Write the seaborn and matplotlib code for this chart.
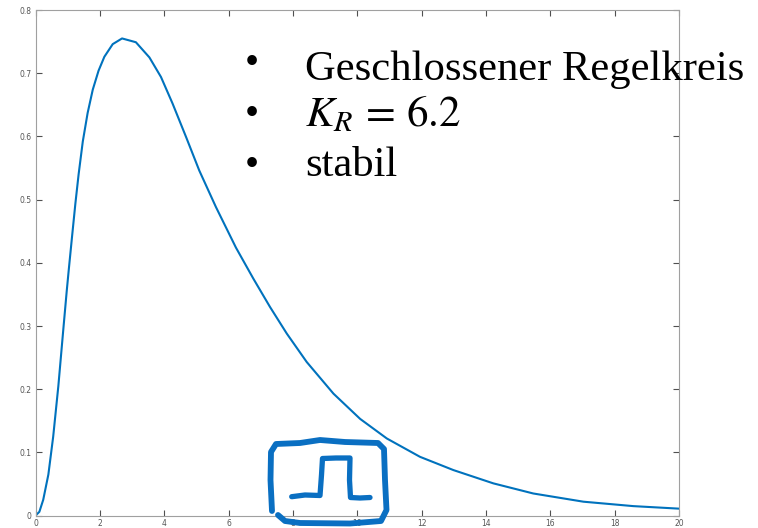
import matplotlib
matplotlib.use("Agg")
import matplotlib.pyplot as plt
import seaborn as sns
import pandas as pd

# ---- data ----
time_s = [0.0, 0.12, 0.24, 0.40, 0.55, 0.71, 0.865, 0.97, 1.03, 1.135, 1.24, 1.34,
          1.47, 1.62, 1.78, 1.96, 2.14, 2.40, 2.69, 3.12, 3.54, 3.90, 4.26, 4.68,
          5.09, 5.61, 6.23, 6.77, 7.29, 7.81, 8.43, 9.26, 10.09, 10.92, 11.95, 12.99,
          14.23, 15.47, 17.03, 18.58, 20.0]
response = [0.0, 0.006, 0.025, 0.065, 0.125, 0.205, 0.295, 0.355, 0.387, 0.441, 0.494, 0.540,
            0.592, 0.637, 0.674, 0.704, 0.726, 0.746, 0.755, 0.749, 0.725, 0.694, 0.652, 0.599,
            0.546, 0.488, 0.424, 0.375, 0.330, 0.288, 0.243, 0.193, 0.153, 0.122, 0.093, 0.072,
            0.051, 0.035, 0.022, 0.015, 0.011]
x_ticks = [0, 2, 4, 6, 8, 10, 12, 14, 16, 18, 20]
y_ticks = [0, 0.1, 0.2, 0.3, 0.4, 0.5, 0.6, 0.7, 0.8]
y_tick_labels = ["0", "0.1", "0.2", "0.3", "0.4", "0.5", "0.6", "0.7", "0.8"]
bullet_lines = ["Geschlossener Regelkreis", r"$K_R\,=\,6.2$", "stabil"]

df = pd.DataFrame({"t": time_s, "y": response})

sns.set_theme(style="white")
plt.rcParams["font.family"] = ["DejaVu Sans"]
plt.rcParams["mathtext.fontset"] = "stix"

W, H = 758, 528
fig = plt.figure(figsize=(W / 100, H / 100), dpi=100)
fig.patch.set_facecolor("white")

def fx(px):
    return px / W

def fy(py):
    return 1 - py / H

ax = fig.add_axes([fx(35.5), fy(515.6), fx(679) - fx(35.5), fy(10) - fy(515.6)])
ax.set_facecolor("white")

sns.lineplot(data=df, x="t", y="y", ax=ax, color="#0072BD", linewidth=1.5, sort=False)

ax.set_xlim(0, 20)
ax.set_ylim(0, 0.8)
ax.set_xticks(x_ticks)
ax.set_xticklabels([str(v) for v in x_ticks])
ax.set_yticks(y_ticks)
ax.set_yticklabels(y_tick_labels)
ax.set_xlabel("")
ax.set_ylabel("")
for s in ax.spines.values():
    s.set_visible(True)
    s.set_color("#a0a0a0")
    s.set_linewidth(0.8)
ax.tick_params(axis="both", which="both", direction="in", length=4, width=0.8,
               color="#505050", labelcolor="#555555", labelsize=5.5,
               top=True, right=True, bottom=True, left=True)
ax.tick_params(axis="x", pad=2.5)
ax.tick_params(axis="y", pad=3)

# ---- bulleted text ----
serif = ["Liberation Serif", "DejaVu Serif"]
baselines = [80, 126.7, 175.7]
bullet_centers = [64.5, 115.5, 166.5]
for txt, bl, bc in zip(bullet_lines, baselines, bullet_centers):
    fig.text(fx(305), fy(bl), txt, family=serif,
             fontsize=30.7 if not txt.startswith("$") else 31,
             color="black", ha="left", va="baseline")
    fig.text(fx(252), fy(bc), "\u2022", family=serif, fontsize=29, color="black",
             ha="center", va="center")

# ---- hand-drawn annotation (pixel path) ----
box_px = [(272, 511), (270.5, 480), (271, 452), (276, 444), (300, 443), (320, 440),
          (345, 442), (378, 443), (384, 449), (385, 480), (386.5, 510), (381, 521),
          (350, 523.5), (300, 523), (285, 521), (278, 515)]
pulse_px = [(291.7, 496.7), (305, 495), (320, 495.5), (321.5, 475), (322.5, 458.5),
            (336, 458), (350, 458), (349.5, 480), (350.5, 497.5), (360, 498), (370, 497.5)]
for path, lw in ((box_px, 4.2), (pulse_px, 3.8)):
    xs = [fx(p[0]) for p in path]
    ys = [fy(p[1]) for p in path]
    fig.add_artist(plt.Line2D(xs, ys, transform=fig.transFigure, color="#0A6FC2",
                              linewidth=lw, solid_capstyle="round",
                              solid_joinstyle="round", clip_on=False))

fig.savefig("out.png", dpi=100, facecolor="white")
